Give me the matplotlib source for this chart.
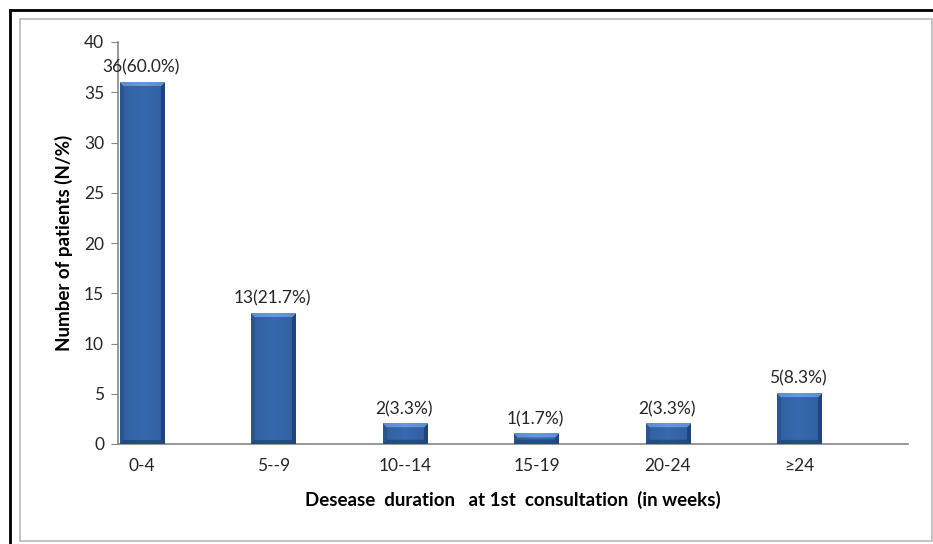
import matplotlib.pyplot as plt
import numpy as np
from matplotlib.patches import Rectangle
from matplotlib.lines import Line2D

durations = ["0-4", "5--9", "10--14", "15-19", "20-24", "\u226524"]
patients = [36, 13, 2, 1, 2, 5]
percent = [60.0, 21.7, 3.3, 1.7, 3.3, 8.3]

plt.rcParams['font.family'] = ['Lato', 'DejaVu Sans']

W_PX, H_PX = 933, 544
fig = plt.figure(figsize=(W_PX / 100, H_PX / 100), dpi=100)
ax = fig.add_axes([118 / W_PX, 1 - 444 / H_PX, 790 / W_PX, 402 / H_PX])

# beveled bar colours
FACE = np.array([0.21, 0.41, 0.68])
TOP = np.array([0.40, 0.60, 0.88])
LEFT = np.array([0.18, 0.36, 0.62])
RIGHT = np.array([0.14, 0.29, 0.53])
BOTTOM = np.array([0.15, 0.31, 0.54])


def bevel_bar(ax, rect, b=4):
    x0, y0 = rect.get_x(), rect.get_y()
    w, h = rect.get_width(), rect.get_height()
    (px0, py0), (px1, py1) = ax.transData.transform([(x0, y0), (x0 + w, y0 + h)])
    W = max(int(round(px1 - px0)), 2)
    H = max(int(round(py1 - py0)), 2)
    rr, cc = np.mgrid[0:H, 0:W]
    dist = np.stack([rr, H - 1 - rr, cc, W - 1 - cc])
    side = dist.argmin(axis=0)
    near = dist.min(axis=0) < b
    img = np.empty((H, W, 3))
    img[:] = FACE
    for k, col in enumerate([TOP, BOTTOM, LEFT, RIGHT]):
        img[near & (side == k)] = col
    # soft shading across the face
    shade = 1 - 0.08 * np.abs(np.linspace(-1, 1, W))
    img *= shade[None, :, None]
    ax.imshow(np.clip(img, 0, 1), extent=(x0, x0 + w, y0, y0 + h), origin='upper',
              aspect='auto', interpolation='bilinear', zorder=3)


x = np.arange(len(durations))
bars = ax.bar(x, patients, width=0.335, color=FACE, zorder=2)
ax.set_xlim(-0.1825, 5.825)
ax.set_ylim(0, 40)
for rect in bars:
    bevel_bar(ax, rect)
ax.set_xlim(-0.1825, 5.825)
ax.set_ylim(0, 40)

for xi, n, p in zip(x, patients, percent):
    ax.annotate(f"{n}({p:.1f}%)", (xi, n), xytext=(-1, 5), textcoords='offset points',
                ha='center', va='bottom', fontsize=12.5, color='#262626')

ax.set_yticks(range(0, 41, 5))
ax.set_xticks(x)
ax.set_xticklabels(durations)
ax.tick_params(axis='y', direction='out', length=5, color='#868686', labelsize=12.5,
               labelcolor='#262626', pad=5)
ax.tick_params(axis='x', length=0, labelsize=12.5, labelcolor='#262626', pad=10)
for s in ['top', 'right']:
    ax.spines[s].set_visible(False)
for s in ['left', 'bottom']:
    ax.spines[s].set_color('#868686')
    ax.spines[s].set_linewidth(1.2)

ax.set_ylabel("Number of patients (N/%)", fontsize=13.5, fontweight='bold', labelpad=8)
ax.set_xlabel("Desease  duration   at 1st  consultation  (in weeks)", fontsize=13.5,
              fontweight='bold', labelpad=12)

# chart frame and outer border
fig.patches.append(Rectangle((20 / W_PX, 1 - 541 / H_PX), 912 / W_PX, 522 / H_PX,
                             transform=fig.transFigure, fill=False, edgecolor='#BFBFBF',
                             linewidth=1.3))
fig.lines.append(Line2D([9.5 / W_PX, 1.0], [1 - 9.5 / H_PX, 1 - 9.5 / H_PX],
                        transform=fig.transFigure, color='black', linewidth=2))
fig.lines.append(Line2D([9.5 / W_PX, 9.5 / W_PX], [0, 1 - 9.5 / H_PX],
                        transform=fig.transFigure, color='black', linewidth=2))

fig.savefig("out.png", dpi=100)
